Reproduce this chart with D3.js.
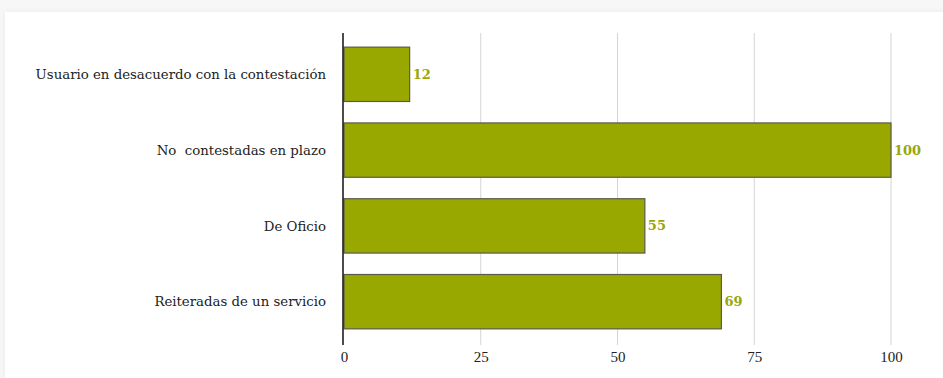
<!DOCTYPE html>
<html>
<head>
<meta charset="utf-8">
<script src="https://cdn.jsdelivr.net/npm/d3@7"></script>
<style>
  html, body { margin: 0; padding: 0; background: #f7f7f7; }
  body { width: 943px; height: 378px; overflow: hidden; position: relative; }
  #card { position: absolute; left: 5px; top: 12px; width: 960px; height: 400px;
          background: #fff; box-shadow: 0 0 6px rgba(0,0,0,0.06); }
  svg { position: absolute; left: 0; top: 0; }
  text { white-space: pre; }
</style>
</head>
<body>
<div id="card"></div>
<svg id="chart" width="943" height="378"></svg>
<script>
// Categories and counts, top to bottom
const categories = [
  "Usuario en desacuerdo con la contestación",
  "No  contestadas en plazo",
  "De Oficio",
  "Reiteradas de un servicio"
];
const values = [12, 100, 55, 69];
const tickValues = [0, 25, 50, 75, 100];

const barColor = "#99a800";
const labelColor = "#9aa60a";
const serif = "'DejaVu Serif', 'Liberation Serif', serif";
const tickFont = "'Liberation Serif', 'DejaVu Serif', serif";

const svg = d3.select("#chart");

const x = d3.scaleLinear().domain([0, 100]).range([344, 891]);
const y = d3.scaleBand().domain(categories).range([32, 344])
  .paddingInner(0.283).paddingOuter(0.2);

const [y0, y1] = [33, 345];

// vertical gridlines
svg.append("g").selectAll("line")
  .data(tickValues.filter(d => d > 0))
  .join("line")
  .attr("x1", d => x(d)).attr("x2", d => x(d))
  .attr("y1", y0).attr("y2", y1)
  .attr("stroke", "#d4d4d4").attr("stroke-width", 1);

// x tick labels
const xAxis = svg.append("g")
  .attr("transform", `translate(0,${y1})`)
  .call(d3.axisBottom(x).tickValues(tickValues).tickSize(0).tickPadding(6));
xAxis.select(".domain").remove();
xAxis.selectAll("text")
  .attr("font-family", tickFont).attr("font-size", 15).attr("fill", "#222");

// bars
svg.append("g").selectAll("rect")
  .data(values)
  .join("rect")
  .attr("x", x(0))
  .attr("y", (d, i) => y(categories[i]))
  .attr("width", d => x(d) - x(0))
  .attr("height", y.bandwidth())
  .attr("fill", barColor)
  .attr("stroke", "#5a5a4a")
  .attr("stroke-width", 1.2);

// value labels
svg.append("g").selectAll("text")
  .data(values)
  .join("text")
  .attr("x", d => x(d) + 3)
  .attr("y", (d, i) => y(categories[i]) + y.bandwidth() / 2)
  .attr("dy", "0.35em")
  .attr("font-family", serif).attr("font-size", 13).attr("font-weight", "bold")
  .attr("fill", labelColor)
  .text(d => d);

// category labels
svg.append("g").selectAll("text")
  .data(categories)
  .join("text")
  .attr("x", 326)
  .attr("y", d => y(d) + y.bandwidth() / 2)
  .attr("dy", "0.35em")
  .attr("text-anchor", "end")
  .attr("font-family", serif).attr("font-size", 13.3).attr("fill", "#222")
  .text(d => d);

// value axis line at zero
svg.append("line")
  .attr("x1", x(0) - 1).attr("x2", x(0) - 1)
  .attr("y1", y0).attr("y2", y1)
  .attr("stroke", "#111").attr("stroke-width", 1.5);
</script>
</body>
</html>
